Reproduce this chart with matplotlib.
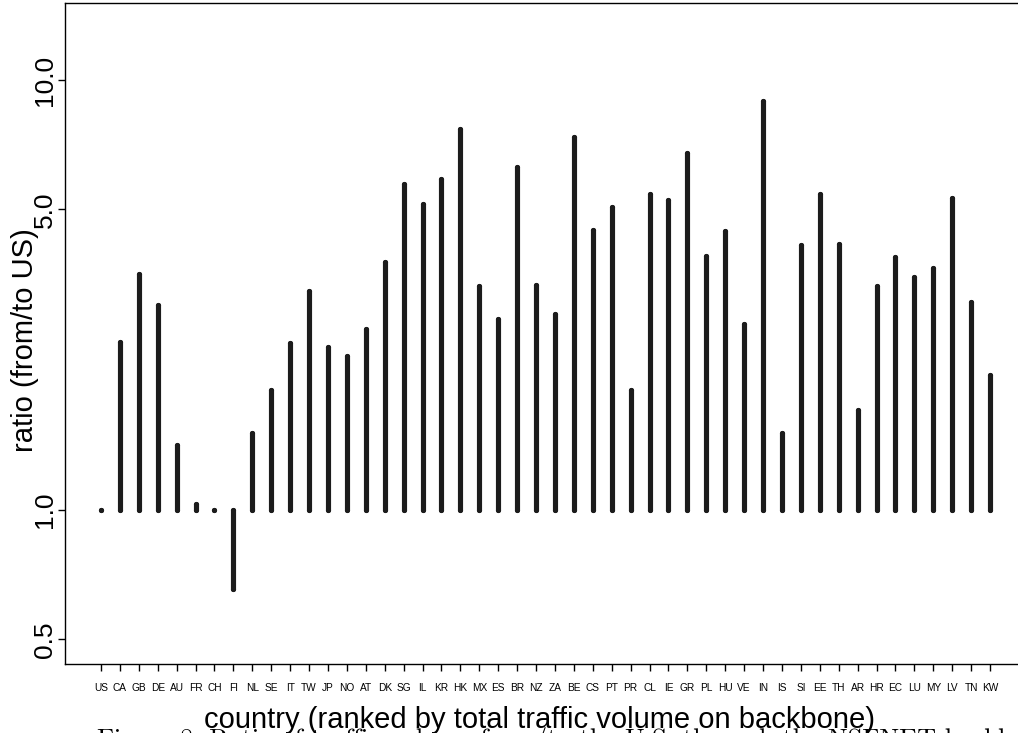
import matplotlib
matplotlib.use('Agg')
import matplotlib.pyplot as plt
from matplotlib.ticker import NullLocator

# countries ranked by total traffic volume on the backbone
countries = ['US', 'CA', 'GB', 'DE', 'AU', 'FR', 'CH', 'FI', 'NL', 'SE', 'IT', 'TW',
             'JP', 'NO', 'AT', 'DK', 'SG', 'IL', 'KR', 'HK', 'MX', 'ES', 'BR', 'NZ',
             'ZA', 'BE', 'CS', 'PT', 'PR', 'CL', 'IE', 'GR', 'PL', 'HU', 'VE', 'IN',
             'IS', 'SI', 'EE', 'TH', 'AR', 'HR', 'EC', 'LU', 'MY', 'LV', 'TN', 'KW']

# ratio of traffic from / to the US
ratio = [1.00, 2.46, 3.53, 2.99, 1.42, 1.03, 1.00, 0.654, 1.51, 1.90, 2.44, 3.23,
         2.39, 2.28, 2.63, 3.77, 5.74, 5.16, 5.89, 7.70, 3.31, 2.78, 6.29, 3.33,
         2.85, 7.36, 4.47, 5.07, 1.90, 5.42, 5.25, 6.76, 3.90, 4.45, 2.71, 8.95,
         1.51, 4.13, 5.42, 4.15, 1.71, 3.31, 3.88, 3.48, 3.66, 5.32, 3.04, 2.06]

ytick_vals = [0.5, 1.0, 5.0, 10.0]
ytick_text = ['0.5', '1.0', '5.0', '10.0']

caption = 'Figure 8: Ratio of traffic volume from/to the U.S. through the NSFNET backbone'

W, H = 1018, 733
fig = plt.figure(figsize=(W / 100, H / 100), dpi=100)
fig.patch.set_facecolor('white')

# plot box runs off the right edge of the page
ax = fig.add_axes([65 / W, 69 / H, 961 / W, 661 / H])

xs = list(range(1, len(countries) + 1))
lw = 3.7
for x, r in zip(xs, ratio):
    # histogram-style spikes from 1.0, round ends
    ax.plot([x, x], [1.0, r], '-', color='#1c1c1c', lw=lw,
            solid_capstyle='round', marker='o', ms=lw, mew=0, mfc='#1c1c1c')

ax.set_yscale('log')
ax.set_ylim(0.4384, 15.1)
ax.set_xlim(-0.9, 49.9)
ax.yaxis.set_minor_locator(NullLocator())
ax.set_yticks(ytick_vals)
ax.set_yticklabels(ytick_text, rotation=90, va='center', fontsize=19,
                   family='Liberation Sans')
ax.set_xticks(xs)
ax.set_xticklabels(countries, fontsize=7.3, family='Liberation Sans')

ax.tick_params(axis='both', direction='out', length=5, width=1, color='black')
ax.tick_params(axis='y', pad=1)
ax.tick_params(axis='x', pad=8.5)

for s in ax.spines.values():
    s.set_linewidth(1.0)
    s.set_color('black')

fig.text(25 / W, 1 - 340 / H, 'ratio (from/to US)', rotation=90, ha='center',
         va='center', fontsize=21, family='Liberation Sans')
fig.text(540 / W, 1 - 727.5 / H, 'country (ranked by total traffic volume on backbone)',
         ha='center', va='baseline', fontsize=21, family='Liberation Sans')

# figure caption from the page below, mostly cut off
fig.text(97 / W, 1 - 747 / H, caption, ha='left', va='baseline', fontsize=19,
         family='cmr10')

fig.savefig('out.png', dpi=100)
